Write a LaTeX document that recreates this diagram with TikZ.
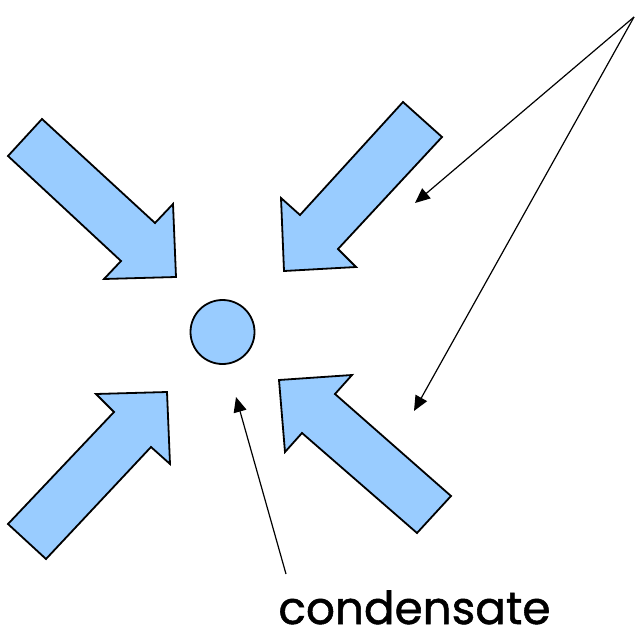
\documentclass[tikz,border=0pt]{standalone}
\usepackage{fontspec}
\setmainfont{Poppins}
\newfontface\lblfont{Poppins}[FakeBold=1.2]
\usetikzlibrary{arrows.meta}
\definecolor{blockblue}{HTML}{99CCFF}
\tikzset{
  blockarrow/.style={draw=black, fill=blockblue, line width=1.8pt, line join=miter},
  pointer/.style={draw=black, line width=1.2pt, -{Triangle[length=15pt,width=13pt]}},
  label/.style={font=\lblfont\fontsize{40}{48}\selectfont, anchor=base, inner sep=0pt}
}
\begin{document}
\begin{tikzpicture}[x=1pt,y=-1pt]
\useasboundingbox (0,0) rectangle (636,639);
% block arrows
\draw[blockarrow] (42,119) -- (155,223) -- (173,204) -- (176,277) -- (104,279) -- (121,261) -- (8,156) -- cycle;
\draw[blockarrow] (403,102) -- (442,137) -- (338,249) -- (356,267) -- (284,271) -- (281,198) -- (300,215) -- cycle;
\draw[blockarrow] (8,524) -- (114,412) -- (96,394) -- (167,392) -- (170,464) -- (151,447) -- (46,559) -- cycle;
\draw[blockarrow] (279,380) -- (352,375) -- (335,394) -- (451,496) -- (417,533) -- (302,433) -- (285,452) -- cycle;
% condensate
\node[circle, draw=black, fill=blockblue, line width=1.8pt, minimum size=64pt, inner sep=0pt] (cond) at (222.5,332) {};
\node[label] (lbl) at (414.5,624) {\resizebox{272pt}{!}{condensate}};
% pointers
\coordinate (src) at (634,17);
\coordinate (t1) at (415,203);
\coordinate (t2) at (414,411);
\coordinate (cs) at (286,574);
\coordinate (ct) at (236,397);
\draw[pointer] (src) -- (t1);
\draw[pointer] (src) -- (t2);
\draw[pointer] (cs) -- (ct);
\end{tikzpicture}
\end{document}
